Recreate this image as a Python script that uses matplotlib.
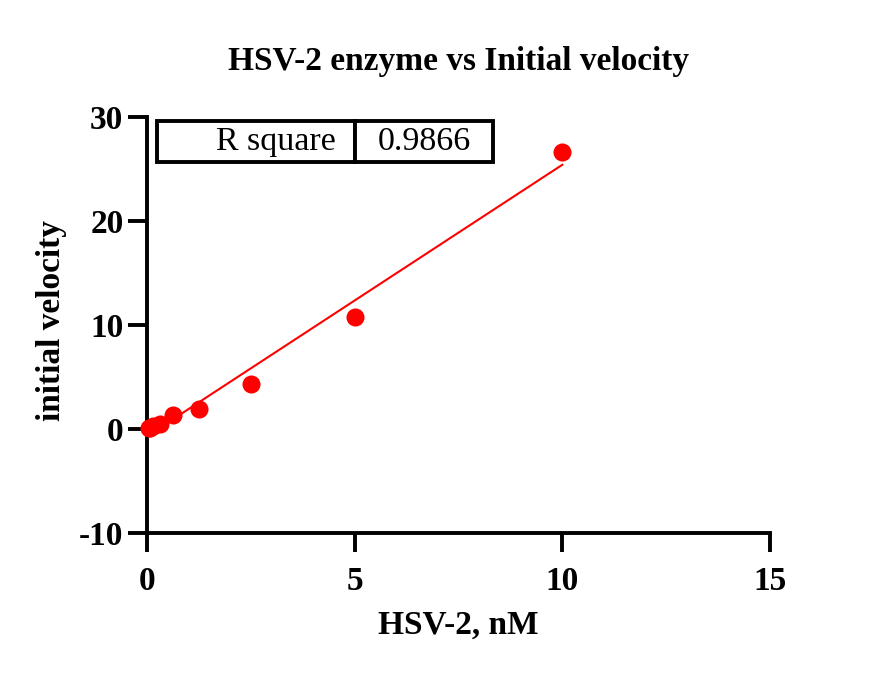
import numpy as np
import matplotlib.pyplot as plt

plt.rcParams['font.family'] = ['Liberation Serif', 'DejaVu Serif']
plt.rcParams['axes.unicode_minus'] = False

# HSV-2 concentration (nM) and measured initial velocity
conc = [0.039, 0.078, 0.156, 0.3125, 0.625, 1.25, 2.5, 5.0, 10.0]
velocity = [0.1, 0.1, 0.25, 0.45, 1.35, 1.9, 4.3, 10.8, 26.6]
r_square = "0.9866"

x_ticks = [0, 5, 10, 15]
y_ticks = [-10, 0, 10, 20, 30]

x = np.array(conc)
y = np.array(velocity)

# linear regression
slope, intercept = np.polyfit(x, y, 1)
x_fit = np.linspace(x.min(), x.max(), 50)
y_fit = slope * x_fit + intercept

fig = plt.figure(figsize=(8.7, 6.77), dpi=100)
ax = fig.add_axes([147/870, 1 - 533/677, 623/870, 416/677])

ax.plot(x_fit, y_fit, color="red", linewidth=1.5, zorder=2)
ax.plot(x, y, "o", color="red", markersize=13, markeredgewidth=0,
        clip_on=False, zorder=3)

ax.set_xlim(0, 15)
ax.set_ylim(-10, 30)
ax.set_xticks(x_ticks)
ax.set_yticks(y_ticks)

for side in ["top", "right"]:
    ax.spines[side].set_visible(False)
for side in ["left", "bottom"]:
    ax.spines[side].set_linewidth(2.8)
    ax.spines[side].set_capstyle("projecting")

ax.tick_params(axis="both", direction="out", length=14, width=2.8,
               labelsize=24)
ax.tick_params(axis="y", pad=3)
ax.tick_params(axis="x", pad=10)
for lab in ax.get_xticklabels() + ax.get_yticklabels():
    lab.set_fontweight("bold")

ax.set_xlabel("HSV-2, nM", fontsize=24, fontweight="bold")
ax.set_ylabel("initial velocity", fontsize=24, fontweight="bold")
ax.xaxis.set_label_coords(0.5, -0.185)
ax.yaxis.set_label_coords(-0.128, 0.51)

ax.set_title("HSV-2 enzyme vs Initial velocity", fontsize=24,
             fontweight="bold", pad=34)

# R square box
tbl = ax.table(cellText=[["R square", r_square]],
               colWidths=[0.318, 0.221],
               cellLoc="center",
               bbox=[0.016, 0.892, 0.539, 0.098])
tbl.auto_set_font_size(False)
for (r, c), cell in tbl.get_celld().items():
    cell.set_linewidth(2.8)
    cell.set_edgecolor("black")
    cell.get_text().set_fontsize(24.5)
    if c == 0:
        cell._loc = "right"
        cell.get_text().set_ha("right")

fig.savefig("out.png", dpi=100)
